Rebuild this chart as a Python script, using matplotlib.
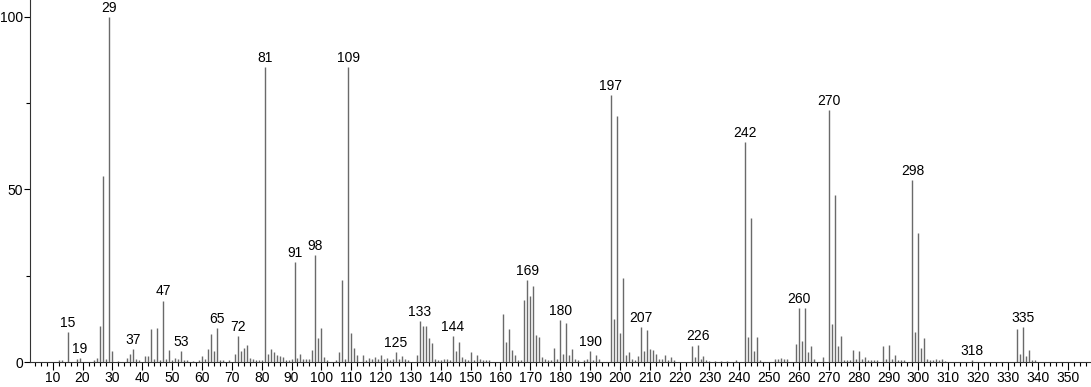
import numpy as np
import matplotlib.pyplot as plt
from matplotlib.ticker import MultipleLocator

plt.rcParams['font.family'] = ['Liberation Sans', 'DejaVu Sans']

# === Spectre de masse : m/z et intensité relative (%) ===
mz = [12, 13, 15, 18, 19, 24, 25, 26, 27, 28, 29, 30, 32, 35, 36, 37, 38, 39,
      41, 42, 43, 44, 45, 46, 47, 48, 49, 50, 51, 52, 53, 54, 55, 57,
      59, 60, 61, 62, 63, 64, 65, 66, 67, 69, 71, 72, 73, 74, 75, 76, 77, 78, 79, 80,
      81, 82, 83, 84, 85, 86, 87, 88, 89, 90, 91, 92, 93, 94, 95, 96, 97, 98, 99, 100,
      101, 102, 105, 106, 107, 108, 109, 110, 111, 112, 114, 115, 116, 117, 118, 119,
      120, 121, 122, 123, 124, 125, 126, 127, 128, 129, 132, 133, 134, 135, 136, 137,
      138, 139, 140, 141, 142, 143, 144, 145, 146, 147, 148, 149, 150, 151, 152, 153,
      154, 155, 156, 161, 162, 163, 164, 165, 166, 167, 168, 169, 170, 171, 172, 173,
      174, 175, 176, 177, 178, 179, 180, 181, 182, 183, 184, 185, 186, 188, 189, 190,
      191, 192, 193, 197, 198, 199, 200, 201, 202, 203, 204, 205, 206, 207, 208, 209,
      210, 211, 212, 213, 214, 215, 216, 217, 218, 224, 225, 226, 227, 228, 229, 230,
      232, 234, 236, 239, 242, 243, 244, 245, 246, 247, 252, 253, 254, 255, 256,
      259, 260, 261, 262, 263, 264, 265, 268, 270, 271, 272, 273, 274, 275, 276, 277,
      278, 279, 280, 281, 282, 283, 284, 285, 286, 288, 289, 290, 291, 292, 293, 294,
      295, 298, 299, 300, 301, 302, 303, 304, 305, 306, 307, 308, 309, 318,
      333, 334, 335, 336, 337, 338, 339]
intensity = [0.7, 0.7, 8.6, 1.0, 1.2, 0.6, 1.2, 10.3, 54.0, 1.0, 100.0, 3.3, 0.4, 1.2, 2.2, 3.8, 1.0, 0.6,
             1.7, 1.8, 9.6, 1.0, 9.9, 0.5, 17.8, 1.0, 3.4, 0.6, 1.2, 1.0, 3.2, 0.6, 0.5, 0.4,
             0.5, 1.8, 0.8, 3.8, 8.2, 3.3, 9.8, 0.7, 0.6, 0.5, 2.3, 7.6, 3.3, 4.2, 4.8, 1.2, 1.0, 0.6, 0.5, 0.5,
             85.5, 2.3, 3.7, 3.0, 2.0, 1.6, 1.5, 0.5, 0.6, 0.8, 29.0, 1.2, 2.3, 1.0, 0.8, 1.0, 3.5, 31.0, 7.0, 9.8,
             1.5, 0.6, 0.5, 3.0, 23.8, 1.0, 85.5, 8.4, 4.1, 2.0, 2.0, 0.7, 1.2, 1.0, 1.4, 1.0,
             1.9, 1.0, 1.3, 0.7, 1.0, 2.8, 1.0, 1.7, 0.8, 0.6, 2.0, 12.0, 10.3, 10.3, 6.9, 5.6,
             1.0, 0.5, 0.5, 0.8, 1.0, 0.6, 7.4, 3.2, 5.7, 1.5, 1.0, 0.7, 3.0, 0.5, 2.0, 1.0,
             0.7, 0.6, 0.6, 13.8, 5.9, 9.7, 3.5, 2.0, 0.7, 0.6, 17.9, 23.7, 19.2, 22.0, 7.9, 7.1,
             1.5, 1.0, 0.7, 0.5, 4.0, 1.0, 12.2, 2.3, 11.2, 2.0, 3.8, 1.0, 0.5, 0.6, 1.0, 3.1,
             0.5, 2.0, 0.8, 77.3, 12.5, 71.3, 8.4, 24.2, 2.0, 2.9, 0.8, 0.6, 1.7, 10.0, 3.2, 9.3,
             3.9, 3.4, 2.3, 1.0, 1.0, 2.0, 0.6, 1.4, 0.6, 4.6, 1.5, 4.9, 1.0, 1.6, 0.5, 0.4,
             0.3, 0.3, 0.3, 0.7, 63.8, 7.1, 41.8, 3.2, 7.2, 0.6, 1.0, 0.8, 1.2, 0.8, 0.8,
             5.2, 15.7, 6.0, 15.6, 2.9, 4.6, 0.8, 1.5, 73.0, 11.0, 48.3, 4.6, 7.5, 0.5, 0.7, 0.7,
             3.4, 0.8, 3.1, 1.0, 1.5, 0.6, 0.7, 0.6, 0.7, 4.5, 1.0, 4.9, 1.0, 2.0, 0.7, 0.7,
             0.6, 52.8, 8.7, 37.3, 4.1, 6.9, 1.0, 0.7, 0.6, 1.0, 0.6, 0.9, 0.4, 0.6,
             9.5, 2.3, 10.1, 1.8, 3.4, 0.7, 0.6]

# Pics annotés
labeled_mz = [15, 19, 29, 37, 47, 53, 65, 72, 81, 91, 98, 109, 125, 133, 144, 169,
              180, 190, 197, 207, 226, 242, 260, 270, 298, 318, 335]

fig = plt.figure(figsize=(10.91, 3.87), dpi=100)
ax = fig.add_axes([30 / 1091, 25 / 387, 1061 / 1091, 362 / 387])

ax.vlines(mz, 0, intensity, color='#6a6a6a', linewidth=1.0)

lookup = dict(zip(mz, intensity))
for m in labeled_mz:
    ax.annotate(str(m), (m, lookup[m]), xytext=(0, 1.5), textcoords='offset points',
                ha='center', va='bottom', fontsize=10, color='black')

ax.set_xlim(2.4, 357.8)
ax.set_ylim(0, 104.9)

ax.xaxis.set_major_locator(MultipleLocator(10))
ax.xaxis.set_minor_locator(MultipleLocator(2))
ax.yaxis.set_major_locator(MultipleLocator(50))
ax.yaxis.set_minor_locator(MultipleLocator(25))
ax.set_xticks(np.arange(10, 351, 10))
ax.tick_params(axis='x', which='major', length=6, width=0.8, labelsize=10, pad=0.5)
ax.tick_params(axis='x', which='minor', length=3, width=0.8)
ax.tick_params(axis='y', which='major', length=4, width=0.8, labelsize=10, pad=1)
ax.tick_params(axis='y', which='minor', length=3, width=0.8)

for s in ['top', 'right']:
    ax.spines[s].set_visible(False)
for s in ['left', 'bottom']:
    ax.spines[s].set_color('#333333')
    ax.spines[s].set_linewidth(0.8)

plt.savefig("out.png", dpi=100)
